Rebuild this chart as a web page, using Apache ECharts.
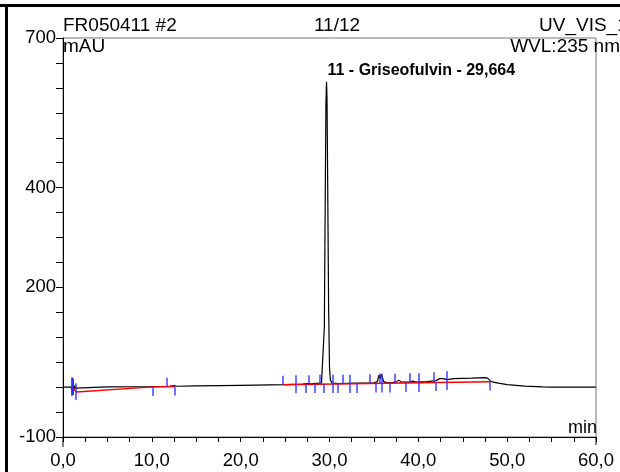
<!DOCTYPE html>
<html>
<head>
<meta charset="utf-8">
<script src="https://cdn.jsdelivr.net/npm/echarts@6/dist/echarts.min.js"></script>
<style>
html,body{margin:0;padding:0;background:#fff;}
#chart{width:620px;height:472px;}
</style>
</head>
<body>
<div id="chart"></div>
<script>
// ---- data ----
const traceT = [0, 0.9, 0.98, 1.05, 1.12, 1.2, 1.3, 1.4, 1.55, 5, 10, 12, 12.5, 12.8, 15, 20, 25, 26, 27, 27.5, 28, 28.4, 28.8, 29.1, 29.3, 29.42, 29.52, 29.6, 29.664, 29.72, 29.8, 29.9, 30.0, 30.1, 30.3, 31, 32, 33, 34, 35, 35.4, 35.55, 35.7, 35.8, 35.95, 36.1, 36.5, 37, 37.5, 37.8, 38.1, 39, 39.4, 39.7, 41, 42, 42.4, 42.8, 43.2, 44, 46, 47.5, 47.8, 48.2, 49, 50, 52, 54, 55, 60];
const traceV = [0, 0, 4, -8, 6, -6, 3, -2, 0, 0.5, 1, 1.8, 3, 1.8, 2.5, 3.5, 5, 5.5, 6, 7, 6.5, 7.5, 8, 8.5, 12, 120, 380, 570, 612, 580, 400, 160, 40, 14, 8, 7, 7.5, 8, 8, 8.5, 11, 24, 17, 26, 20, 11, 8.5, 9, 10, 14, 10, 10, 12, 10, 11, 13, 17, 17, 15, 17, 18, 19, 18, 11, 8, 5, 2, 0.5, 0, 0];
const baselineA = [[1.2, -3], [1.5, -10], [10.15, 0.5], [12.58, 1.5]];
const baselineB = [[24.76, 5], [48.09, 11]];
// delimiters: [time, from, to]
const delimiters = [
  [0.95, 20, -18], [1.0, 18, -16], [1.05, 18, -16], [1.1, 17, -15], [1.15, 16, -15], [1.45, 8, -26],
  [10.15, 0, -18], [11.65, 1, 19], [12.58, 2, -17],
  [24.76, 5, 23], [26.25, 24, -12], [27.38, 6, -12], [27.62, 6, 24],
  [28.39, 7, -12], [28.95, 7, 25], [29.33, 7, -12],
  [30.37, 25, -12], [30.94, 7, -12], [31.5, 7, 25], [32.25, 7, 25], [32.32, 7, -12], [33.07, 7, -12],
  [34.49, 8, 26], [35.17, 8, -11], [35.62, 8, 27], [35.92, 27, -11], [36.74, 8, -11],
  [37.3, 9, 27], [38.54, 9, -10], [38.99, 9, 28], [40.0, 28, -10],
  [41.72, 10, 30], [41.99, 10, -8], [43.22, 32, -6], [48.09, 11, -7]
];
const peakName = '11 - Griseofulvin - 29,664';
const peakT = 29.664;
const peakV = 612;
const yTickLabels = [700, 400, 200, -100];
const xTickLabels = {0: '0,0', 10: '10,0', 20: '20,0', 30: '30,0', 40: '40,0', 50: '50,0', 60: '60,0'};
const headerLeft = 'FR050411 #2';
const headerMid = '11/12';
const headerRight = 'UV_VIS_1';
const unitY = 'mAU';
const wavelength = 'WVL:235 nm';
const unitX = 'min';

const FONT = '"Liberation Sans", Arial, sans-serif';
const chart = echarts.init(document.getElementById('chart'), null, {renderer: 'canvas'});
const trace = traceT.map((t, i) => [t, traceV[i]]);

chart.setOption({
  animation: false,
  backgroundColor: '#fff',
  grid: {left: 63, right: 24, top: 38, bottom: 35, show: true, borderColor: '#777', borderWidth: 1, containLabel: false},
  xAxis: {
    type: 'value', min: 0, max: 60, interval: 10,
    axisLine: {onZero: false, lineStyle: {color: '#000', width: 1}},
    axisTick: {show: true, length: 5, lineStyle: {color: '#000'}},
    minorTick: {show: true, splitNumber: 4, length: 5, lineStyle: {color: '#000'}},
    splitLine: {show: false},
    axisLabel: {color: '#000', fontSize: 18.5, fontFamily: FONT, margin: 14,
      formatter: v => xTickLabels[v] !== undefined ? xTickLabels[v] : ''}
  },
  yAxis: {
    type: 'value', min: -100, max: 700, interval: 50,
    axisLine: {onZero: false, lineStyle: {color: '#000', width: 1}},
    axisTick: {show: true, length: 7, lineStyle: {color: '#000'}},
    splitLine: {show: false},
    axisLabel: {color: '#000', fontSize: 18.5, fontFamily: FONT, margin: 7,
      formatter: v => yTickLabels.indexOf(v) >= 0 ? String(v) : ''}
  },
  series: [
    {type: 'line', data: baselineA, symbol: 'none', lineStyle: {color: '#ff0000', width: 1.5}, z: 3},
    {type: 'line', data: baselineB, symbol: 'none', lineStyle: {color: '#ff0000', width: 1.5}, z: 3},
    {type: 'line', data: trace, symbol: 'none', lineStyle: {color: '#000', width: 1.2}, z: 2,
      markPoint: {
        symbol: 'circle', symbolSize: 0,
        data: [{coord: [peakT, peakV], value: peakName}],
        label: {show: true, formatter: peakName, position: [1, -3], align: 'left', verticalAlign: 'bottom',
          color: '#000', fontWeight: 'bold', fontSize: 16, fontFamily: FONT}
      }
    },
    {type: 'lines', coordinateSystem: 'cartesian2d', z: 4,
      data: delimiters.map(d => ({coords: [[d[0], d[1]], [d[0], d[2]]]})),
      lineStyle: {color: '#2f2fff', width: 1.5, opacity: 0.9}}
  ],
  graphic: [
    {type: 'rect', shape: {x: 0, y: 4, width: 620, height: 3}, style: {fill: '#000'}},
    {type: 'rect', shape: {x: 5, y: 4, width: 3, height: 468}, style: {fill: '#000'}},
    {type: 'line', shape: {x1: 63, y1: 437, x2: 63, y2: 447}, style: {stroke: '#000', lineWidth: 1}},
    {type: 'line', shape: {x1: 596, y1: 437, x2: 596, y2: 445}, style: {stroke: '#000', lineWidth: 1}},
    {type: 'text', style: {text: headerLeft, x: 63, y: 26, font: '19px ' + FONT, fill: '#000', align: 'left', verticalAlign: 'middle'}},
    {type: 'text', style: {text: headerMid, x: 337, y: 26, font: '19px ' + FONT, fill: '#000', align: 'center', verticalAlign: 'middle'}},
    {type: 'text', style: {text: headerRight, x: 539, y: 26, font: '19px ' + FONT, fill: '#000', align: 'left', verticalAlign: 'middle'}},
    {type: 'text', style: {text: unitY, x: 63, y: 47, font: '19px ' + FONT, fill: '#000', align: 'left', verticalAlign: 'middle'}},
    {type: 'text', style: {text: wavelength, x: 620, y: 47, font: '19px ' + FONT, fill: '#000', align: 'right', verticalAlign: 'middle'}},
    {type: 'text', style: {text: unitX, x: 597, y: 428, font: '18px ' + FONT, fill: '#000', align: 'right', verticalAlign: 'middle'}}
  ]
});
</script>
</body>
</html>
